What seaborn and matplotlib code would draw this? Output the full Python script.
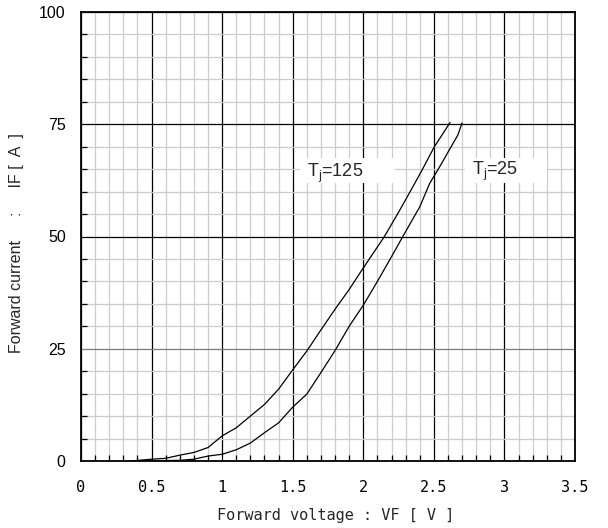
import numpy as np
import pandas as pd
import matplotlib
matplotlib.use("Agg")
import matplotlib.pyplot as plt
import seaborn as sns
from matplotlib.ticker import MultipleLocator, FixedLocator
from matplotlib.patches import Rectangle

# ---- data ----
vf_125 = [0.35, 0.5, 0.6, 0.7, 0.8, 0.9, 1.0, 1.1, 1.2, 1.3, 1.4, 1.5, 1.6, 1.7,
          1.8, 1.9, 2.0, 2.15, 2.25, 2.35, 2.42, 2.5, 2.615]
if_125 = [0, 0.4, 0.6, 1.3, 1.9, 3.0, 5.6, 7.4, 10.0, 12.6, 16.0, 20.3, 24.5, 29.2,
          33.8, 38.2, 43.0, 50.0, 55.4, 61.0, 65.0, 69.8, 75.4]

vf_25 = [0.39, 0.6, 0.7, 0.8, 0.9, 1.0, 1.1, 1.2, 1.3, 1.4, 1.5, 1.6, 1.7, 1.8,
         1.9, 2.0, 2.1, 2.2, 2.28, 2.4, 2.47, 2.55, 2.615, 2.67, 2.70]
if_25 = [0, 0.1, 0.15, 0.4, 1.1, 1.5, 2.5, 4.0, 6.3, 8.5, 12.0, 14.9, 19.7, 24.6,
         30.0, 34.7, 40.0, 45.5, 50.0, 56.6, 61.8, 66.0, 69.6, 72.6, 75.3]

series_labels = ["T$_\\mathrm{j}$=125", "T$_\\mathrm{j}$=25"]
x_ticks = [0, 0.5, 1, 1.5, 2, 2.5, 3, 3.5]
x_tick_labels = ["0", "0.5", "1", "1.5", "2", "2.5", "3", "3.5"]
y_ticks = [0, 25, 50, 75, 100]
y_tick_labels = ["0", "25", "50", "75", "100"]

df = pd.concat([
    pd.DataFrame({"VF": vf_125, "IF": if_125, "Tj": "125"}),
    pd.DataFrame({"VF": vf_25, "IF": if_25, "Tj": "25"}),
])

sns.set_theme(style="white")
plt.rcParams["font.family"] = ["Liberation Sans", "DejaVu Sans"]
plt.rcParams["mathtext.fontset"] = "custom"
plt.rcParams["mathtext.rm"] = "Liberation Sans"
plt.rcParams["mathtext.it"] = "Liberation Sans"

fig = plt.figure(figsize=(6.08, 5.28), dpi=100)
ax = fig.add_axes([81 / 608, 1 - 461 / 528, 494 / 608, 449 / 528])

sns.lineplot(data=df, x="VF", y="IF", hue="Tj", units="Tj", estimator=None,
             sort=False, palette=["black", "black"], linewidth=0.9,
             legend=False, ax=ax, zorder=4)

ax.set_xlim(0, 3.5)
ax.set_ylim(0, 100)
ax.xaxis.set_major_locator(FixedLocator(x_ticks))
ax.yaxis.set_major_locator(FixedLocator(y_ticks))
ax.xaxis.set_minor_locator(MultipleLocator(0.1))
ax.yaxis.set_minor_locator(MultipleLocator(5))
ax.set_xticklabels(x_tick_labels, fontfamily="DejaVu Sans Mono", fontsize=11)
ax.set_yticklabels(y_tick_labels, fontsize=11.5)

ax.set_axisbelow(True)
ax.grid(which="minor", color="#cccccc", linewidth=0.9)
ax.grid(which="major", color="black", linewidth=0.9)
for tick_val, gl in zip(y_ticks, ax.yaxis.get_gridlines()):
    if tick_val == 25:
        gl.set_color("#7a7a7a")

ax.tick_params(which="major", direction="in", length=0, pad=14, colors="black")
ax.tick_params(axis="y", which="major", pad=11)
ax.tick_params(which="minor", direction="in", length=4.5, width=0.9, color="black",
               bottom=True, left=True, top=False, right=False)
for s in ax.spines.values():
    s.set_color("black")
    s.set_linewidth(1.3)

ax.set_xlabel("Forward voltage : VF [ V ]", fontfamily="DejaVu Sans Mono", fontsize=11)
ax.xaxis.set_label_coords(0.516, -0.105)
ax.set_ylabel("Forward current\u2003\u2002:\u2003\u2002IF [\u2002A\u2002]", fontsize=11.5)
ax.yaxis.set_label_coords(-0.115, 0.486)

# white label boxes with text
ax.add_patch(Rectangle((1.552, 61.9), 0.673, 5.6, facecolor="white", edgecolor="none", zorder=3))
ax.add_patch(Rectangle((2.72, 61.9), 0.58, 5.6, facecolor="white", edgecolor="none", zorder=3))
ax.text(1.60, 64.1, series_labels[0], fontsize=13, va="center", ha="left", zorder=5)
ax.text(2.77, 64.6, series_labels[1], fontsize=13, va="center", ha="left", zorder=5)

fig.savefig("out.png", dpi=100)
